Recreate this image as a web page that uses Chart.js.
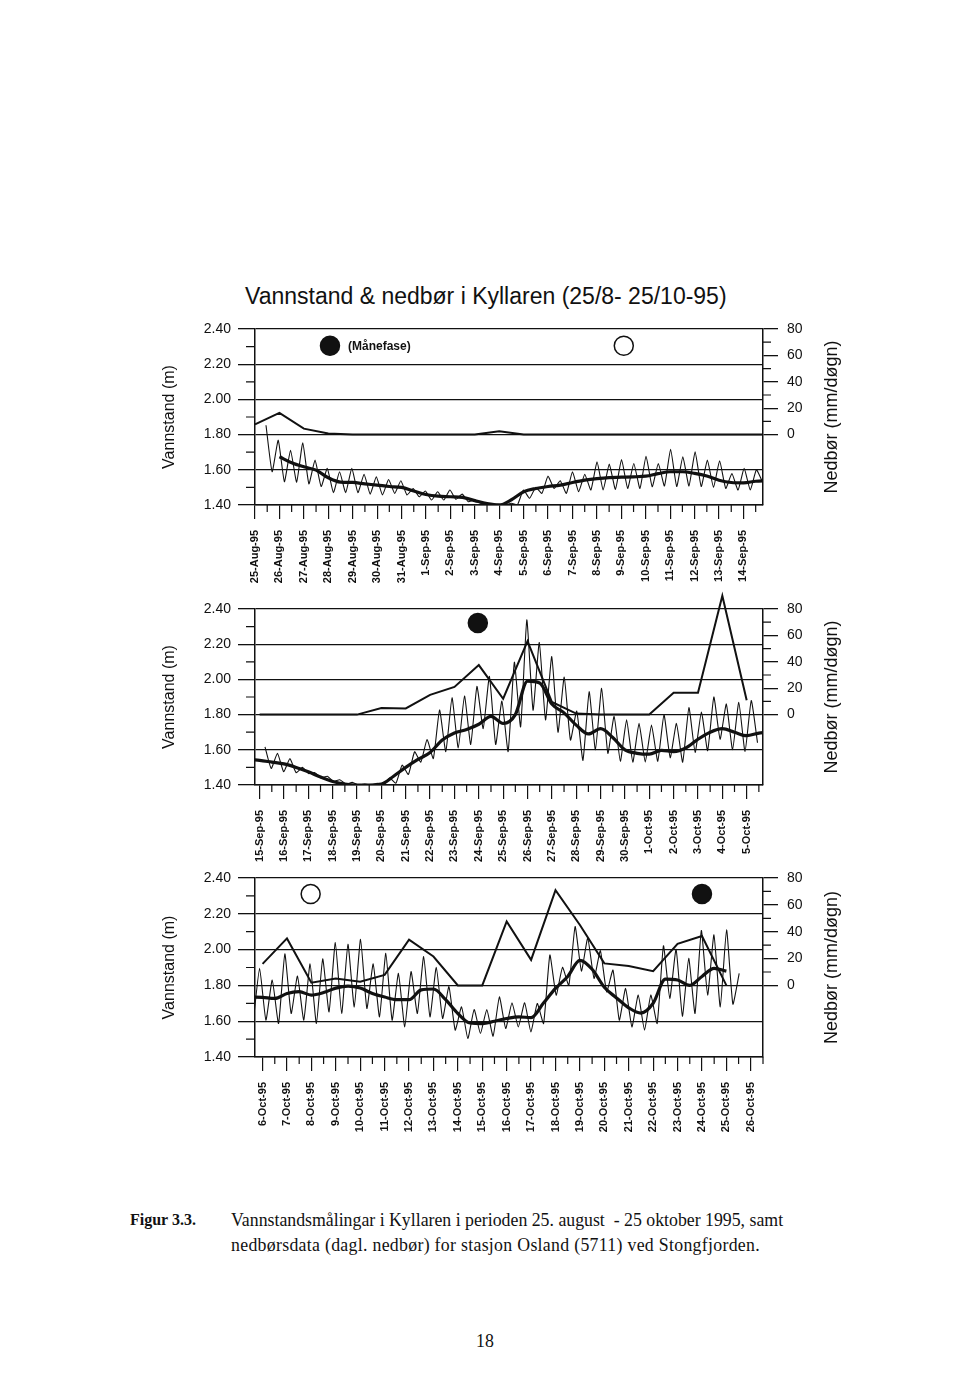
<!DOCTYPE html>
<html>
<head>
<meta charset="utf-8">
<script src="https://cdn.jsdelivr.net/npm/chart.js@4.4.0/dist/chart.umd.min.js"></script>
<style>
  body { margin: 0; background: #fff; width: 960px; height: 1393px; position: relative; overflow: hidden;
         font-family: "Liberation Sans", Arial, sans-serif; color: #111; }
  canvas { position: absolute; left: 0; }
  #title { position: absolute; left: 245px; top: 283px; font-size: 23px; white-space: nowrap; }
  .cap { position: absolute; font-family: "Liberation Serif", "Times New Roman", serif; font-size: 17.8px; white-space: nowrap; }
</style>
</head>
<body>
<div id="title">Vannstand &amp; nedbør i Kyllaren (25/8- 25/10-95)</div>
<canvas id="p1" width="960" height="301" style="top:299px"></canvas>
<canvas id="p2" width="960" height="301" style="top:579px"></canvas>
<canvas id="p3" width="960" height="304" style="top:848px"></canvas>
<div class="cap" style="left:130px;top:1211px;font-weight:bold;font-size:16px">Figur 3.3.</div>
<div class="cap" style="left:231px;top:1210px">Vannstandsmålingar i Kyllaren i perioden 25. august&nbsp; - 25 oktober 1995, samt</div>
<div class="cap" style="left:231px;top:1235px;letter-spacing:0.3px">nedbørsdata (dagl. nedbør) for stasjon Osland (5711) ved Stongfjorden.</div>
<div class="cap" style="left:476px;top:1331px">18</div>
<script>
// axis ticks
const levelTicks = [1.4, 1.6, 1.8, 2.0, 2.2, 2.4];
const rainTicks = [0, 20, 40, 60, 80];

// panel 1: 25 Aug - 14 Sep
const days1 = ['25-Aug-95','26-Aug-95','27-Aug-95','28-Aug-95','29-Aug-95','30-Aug-95','31-Aug-95',
  '1-Sep-95','2-Sep-95','3-Sep-95','4-Sep-95','5-Sep-95','6-Sep-95','7-Sep-95','8-Sep-95','9-Sep-95',
  '10-Sep-95','11-Sep-95','12-Sep-95','13-Sep-95','14-Sep-95'];
// water level, alternating high / low, every ~6 h from day 0.45
const tide1 = [1.853,1.589, 1.768,1.532, 1.711,1.53, 1.753,1.52, 1.655,1.505, 1.608,1.47, 1.589,1.47,
  1.608,1.47, 1.575,1.462, 1.56,1.457, 1.545,1.466, 1.538,1.457, 1.494,1.447, 1.48,1.428, 1.475,1.428,
  1.485,1.432, 1.462,1.419, 1.43,1.41, 1.41,1.40, 1.405,1.40, 1.41,1.40, 1.485,1.438, 1.50,1.466,
  1.564,1.494, 1.538,1.466, 1.589,1.475, 1.575,1.485, 1.645,1.485, 1.632,1.489, 1.658,1.494, 1.636,1.494,
  1.677,1.504, 1.636,1.508, 1.717,1.505, 1.674,1.508, 1.702,1.505, 1.655,1.50, 1.651,1.494, 1.579,1.485,
  1.608,1.485, 1.60,1.53];
// smoothed level, every half day from day 1
const mean1 = [1.674,1.64,1.617,1.598,1.555,1.53,1.528,1.52,1.513,1.505,1.50,1.48,1.46,1.45,1.447,1.443,
  1.425,1.408,1.40,1.43,1.475,1.494,1.505,1.513,1.528,1.541,1.55,1.556,1.558,1.56,1.564,1.578,1.589,1.589,
  1.58,1.565,1.541,1.528,1.526,1.535,1.538];
// daily precipitation (mm)
const rain1 = [7.7,16.4,4.5,0.8,0,0,0,0,0,0,2.5,0,0,0,0,0,0,0,0,0,0,0];
const moon1 = [3.07, 15.1];
const moonFull1 = [false, true];

// panel 2: 15 Sep - 5 Oct
const days2 = ['15-Sep-95','16-Sep-95','17-Sep-95','18-Sep-95','19-Sep-95','20-Sep-95','21-Sep-95',
  '22-Sep-95','23-Sep-95','24-Sep-95','25-Sep-95','26-Sep-95','27-Sep-95','28-Sep-95','29-Sep-95',
  '30-Sep-95','1-Oct-95','2-Oct-95','3-Oct-95','4-Oct-95','5-Oct-95'];
const tide2 = [1.617,1.494, 1.58,1.475, 1.55,1.47, 1.50,1.465, 1.47,1.44, 1.45,1.42, 1.43,1.405,
  1.415,1.40, 1.405,1.40, 1.41,1.40, 1.44,1.41, 1.513,1.46, 1.589,1.53, 1.658,1.55, 1.826,1.59,
  1.896,1.61, 1.906,1.63, 1.96,1.72, 2.017,1.63, 1.877,1.59, 2.098,1.73, 2.338,1.825, 2.21,1.77,
  2.13,1.70, 2.013,1.655, 1.82,1.54, 1.93,1.60, 1.95,1.58, 1.79,1.535, 1.77,1.53, 1.75,1.53,
  1.74,1.535, 1.80,1.555, 1.75,1.53, 1.84,1.585, 1.815,1.595, 1.90,1.66, 1.86,1.60, 1.87,1.59, 1.88,1.64];
// half-daily from day -0.5
const mean2 = [1.545,1.54,1.53,1.52,1.50,1.475,1.445,1.42,1.405,1.40,1.40,1.405,1.45,1.50,1.545,1.585,
  1.655,1.695,1.715,1.745,1.79,1.75,1.80,1.99,1.98,1.86,1.81,1.74,1.69,1.72,1.67,1.60,1.58,1.575,1.597,
  1.59,1.61,1.66,1.70,1.72,1.70,1.68,1.695,1.70];
const rain2 = [0,0,0,0,0,5,4.7,15,21,37.5,12,55.6,9.6,0.8,0,0,0,16.6,16.6,90,10.8];
const moon2 = [8.96];
const moonFull2 = [false];

// panel 3: 6 Oct - 26 Oct
const days3 = ['6-Oct-95','7-Oct-95','8-Oct-95','9-Oct-95','10-Oct-95','11-Oct-95','12-Oct-95',
  '13-Oct-95','14-Oct-95','15-Oct-95','16-Oct-95','17-Oct-95','18-Oct-95','19-Oct-95','20-Oct-95',
  '21-Oct-95','22-Oct-95','23-Oct-95','24-Oct-95','25-Oct-95','26-Oct-95'];
const tide3 = [1.60, 1.895,1.606, 1.83,1.587, 1.976,1.643, 1.852,1.606, 1.92,1.587, 1.948,1.652,
  2.039,1.643, 2.03,1.68, 2.058,1.671, 1.92,1.624, 1.979,1.606, 1.867,1.568, 1.877,1.643, 1.961,1.624,
  1.901,1.615, 1.793,1.55, 1.68,1.503, 1.665,1.531, 1.665,1.516, 1.736,1.559, 1.703,1.568, 1.703,1.54,
  1.699,1.587, 1.97,1.746, 1.901,1.80, 2.129,1.88, 2.064,1.839, 1.994,1.764, 1.886,1.606, 1.783,1.568,
  1.746,1.55, 1.746,1.587, 2.021,1.727, 2.002,1.628, 1.951,1.643, 2.107,1.746, 2.082,1.68, 2.11,1.695, 1.867];
// half-daily from day -0.5
const mean3 = [1.735,1.733,1.727,1.755,1.765,1.746,1.76,1.785,1.796,1.785,1.755,1.735,1.72,1.72,1.775,
  1.78,1.72,1.643,1.59,1.587,1.60,1.615,1.624,1.62,1.70,1.783,1.85,1.94,1.89,1.79,1.73,1.675,1.645,1.70,
  1.835,1.83,1.80,1.85,1.895,1.88];
const rain3 = [16,35,2,5.2,2.7,7.8,34,21.5,0,0,47.6,19,71,45,16.4,14.4,10.6,31,36.8,0];
const moon3 = [1.97, 18.0];
const moonFull3 = [true, false];

const FONT = '"Liberation Sans", Arial, sans-serif';
const INK = '#111';

// short ticks between the labelled ones, axis titles, moon legend
const extras = {
  id: 'extras',
  afterDraw(chart, args, o) {
    const ctx = chart.ctx, a = chart.chartArea;
    const x = chart.scales.x, y = chart.scales.y, y2 = chart.scales.y2;
    ctx.save();
    ctx.strokeStyle = INK;
    ctx.lineWidth = 1.2;
    ctx.beginPath();
    for (let d = Math.floor(x.min); d <= x.max; d++) {
      const v = d + 0.5;
      if (v < x.min || v > x.max) continue;
      const px = x.getPixelForValue(v);
      ctx.moveTo(px, a.bottom); ctx.lineTo(px, a.bottom + 7);
    }
    for (let i = 0; i < levelTicks.length - 1; i++) {
      const py = y.getPixelForValue((levelTicks[i] + levelTicks[i + 1]) / 2);
      ctx.moveTo(a.left - 9, py); ctx.lineTo(a.left, py);
    }
    for (let i = 0; i < rainTicks.length - 1; i++) {
      const py = y2.getPixelForValue((rainTicks[i] + rainTicks[i + 1]) / 2);
      ctx.moveTo(a.right, py); ctx.lineTo(a.right + 8, py);
    }
    ctx.stroke();

    ctx.fillStyle = INK;
    ctx.textAlign = 'center';
    ctx.textBaseline = 'middle';
    const cy = (a.top + a.bottom) / 2;
    ctx.save();
    ctx.translate(170, cy); ctx.rotate(-Math.PI / 2);
    ctx.font = '16px ' + FONT;
    ctx.fillText('Vannstand (m)', 0, 0);
    ctx.restore();
    ctx.save();
    ctx.translate(832, cy); ctx.rotate(-Math.PI / 2);
    ctx.font = '18px ' + FONT;
    ctx.fillText('Nedbør (mm/døgn)', 0, 0);
    ctx.restore();

    if (o.legendAt != null) {
      ctx.font = 'bold 12px ' + FONT;
      ctx.textAlign = 'left';
      ctx.fillText('(Månefase)', x.getPixelForValue(o.legendAt) + 18, y.getPixelForValue(o.moonLevel) + 1);
    }
    ctx.restore();
  }
};

function series(values, start, step) {
  return values.map((v, i) => ({ x: start + i * step, y: v }));
}

function panel(id, p) {
  return new Chart(document.getElementById(id), {
    type: 'line',
    data: {
      datasets: [
        { data: p.moons.map(d => ({ x: d, y: p.moonLevel })), showLine: false, yAxisID: 'y',
          pointRadius: 9.5, pointBorderWidth: 1.5, pointBorderColor: INK,
          pointBackgroundColor: p.full.map(f => f ? '#fff' : INK), clip: false },
        { data: series(p.tide, p.tideStart, p.tideStep), yAxisID: 'y', borderColor: INK,
          borderWidth: 1.1, tension: 0.15, pointRadius: 0 },
        { data: series(p.mean, p.meanStart, 0.5), yAxisID: 'y', borderColor: INK,
          borderWidth: 3.2, cubicInterpolationMode: 'monotone', pointRadius: 0 },
        { data: series(p.rain, 0, 1), yAxisID: 'y2', borderColor: INK,
          borderWidth: 2, tension: 0, pointRadius: 0,
          clip: { left: 1, right: 0, top: false, bottom: 1 } }
      ]
    },
    options: {
      responsive: false,
      animation: false,
      devicePixelRatio: 1,
      layout: { padding: { top: 30, left: 0, right: 0, bottom: 0 } },
      plugins: {
        legend: { display: false },
        tooltip: { enabled: false },
        extras: { legendAt: p.legendAt, moonLevel: p.moonLevel }
      },
      scales: {
        x: {
          type: 'linear', min: p.xMin, max: p.xMax,
          afterBuildTicks: s => { s.ticks = p.days.map((_, i) => ({ value: i })); },
          afterFit: s => { s.height = 95; },
          ticks: { autoSkip: false, minRotation: 90, maxRotation: 90, padding: 11, color: INK,
                   font: { family: FONT, size: 11, weight: 'bold' },
                   callback: (v, i) => p.days[i] },
          grid: { drawOnChartArea: false, tickLength: 14, color: INK, lineWidth: 1.2 },
          border: { color: INK, width: 1.5 }
        },
        y: {
          position: 'left', min: 1.4, max: 2.4,
          afterBuildTicks: s => { s.ticks = levelTicks.map(v => ({ value: v })); },
          afterFit: s => { s.width = 255; },
          ticks: { padding: 7, color: INK, font: { family: FONT, size: 14 }, callback: v => v.toFixed(2) },
          grid: { color: INK, lineWidth: 1.3, tickLength: 17 },
          border: { color: INK, width: 1.5 }
        },
        y2: {
          position: 'right', min: -53.333, max: 80,
          afterBuildTicks: s => { s.ticks = rainTicks.map(v => ({ value: v })); },
          afterFit: s => { s.width = 197; },
          ticks: { padding: 9, color: INK, font: { family: FONT, size: 14 } },
          grid: { drawOnChartArea: false, color: INK, lineWidth: 1.3, tickLength: 15 },
          border: { color: INK, width: 1.5 }
        }
      }
    },
    plugins: [extras]
  });
}

panel('p1', { days: days1, xMin: 0, xMax: 20.8, tide: tide1, tideStart: 0.45, tideStep: 0.251,
  mean: mean1, meanStart: 1, rain: rain1, moons: moon1, full: moonFull1, moonLevel: 2.305, legendAt: moon1[0] });
panel('p2', { days: days2, xMin: -0.19, xMax: 20.67, tide: tide2, tideStart: 0.22, tideStep: 0.256,
  mean: mean2, meanStart: -0.5, rain: rain2, moons: moon2, full: moonFull2, moonLevel: 2.32 });
panel('p3', { days: days3, xMin: -0.31, xMax: 20.5, tide: tide3, tideStart: -0.38, tideStep: 0.2585,
  mean: mean3, meanStart: -0.5, rain: rain3, moons: moon3, full: moonFull3, moonLevel: 2.31 });
</script>
</body>
</html>
